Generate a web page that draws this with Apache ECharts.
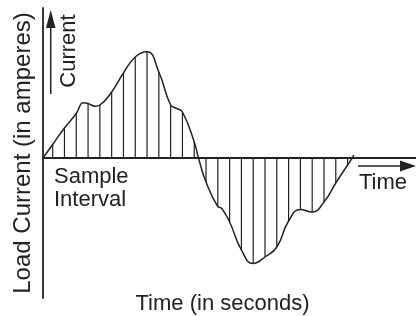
<!DOCTYPE html>
<html>
<head>
<meta charset="utf-8">
<script src="https://cdn.jsdelivr.net/npm/echarts@6/dist/echarts.min.js"></script>
<style>
    html, body { margin: 0; padding: 0; background: #fff; }
    #chart { width: 416px; height: 316px; }
</style>
</head>
<body>
<div id="chart"></div>
<script>
// sample instants (one per sample interval) and the current read at each
const sampleTimes = [1, 2, 3, 4, 5, 6, 7, 8, 9, 10, 11, 12, 13,
    14, 15, 16, 17, 18, 19, 20, 21, 22, 23, 24, 25, 26]
const sampleCurrent = [1.35, 3.0, 4.45, 5.45, 5.3, 6.6, 8.5, 10.1, 10.62, 8.6, 5.3, 4.6, 1.6,
    -2.4, -4.87, -6.4, -9.2, -10.55, -9.9, -8.9, -6.3, -5.15, -5.4, -4.4, -2.5, -0.7]

// the continuous load current waveform
const curveTimes = [0.18, 1, 2, 3, 3.6, 4, 4.6, 5, 6, 7, 8, 9, 10, 11, 11.5, 12, 13, 13.36,
    14, 15, 15.32, 16, 17, 18, 19, 20, 21, 22, 23, 24, 25, 26, 26.39, 26.54]
const curveCurrent = [0, 1.35, 3.0, 4.45, 5.53, 5.45, 5.18, 5.3, 6.6, 8.5, 10.1, 10.62, 8.6, 5.3, 4.97, 4.6, 1.6, 0,
    -2.4, -4.87, -5.03, -6.4, -9.2, -10.55, -9.9, -8.9, -6.3, -5.15, -5.4, -4.4, -2.5, -0.7, 0, 0.3]

const ink = '#222'
const font = 'Liberation Sans, Arial, Helvetica, sans-serif'

const chart = echarts.init(document.getElementById('chart'))

const option = {
    animation: false,
    grid: { left: 43, right: 0, top: 8, bottom: 18 },
    xAxis: {
        type: 'value',
        min: 0.18,
        max: 31.8,
        axisLine: { onZero: true, lineStyle: { color: ink, width: 1.8 } },
        axisTick: { show: false },
        axisLabel: { show: false },
        splitLine: { show: false }
    },
    yAxis: {
        type: 'value',
        min: -14,
        max: 15,
        name: 'Load Current (in amperes)',
        nameLocation: 'middle',
        nameRotate: 90,
        nameGap: 8,
        nameTextStyle: { color: ink, fontSize: 24, fontFamily: font },
        axisLine: { show: true, onZero: false, lineStyle: { color: ink, width: 1.8 } },
        axisTick: { show: false },
        axisLabel: { show: false },
        splitLine: { show: false }
    },
    series: [
        {
            name: 'Samples',
            type: 'bar',
            barWidth: 1.2,
            itemStyle: { color: ink },
            data: sampleTimes.map((t, i) => [t, sampleCurrent[i]])
        },
        {
            name: 'Current',
            type: 'line',
            smooth: 0.5,
            symbol: 'none',
            lineStyle: { color: ink, width: 1.5 },
            data: curveTimes.map((t, i) => [t, curveCurrent[i]])
        }
    ],
    graphic: [
        // up arrow + "Current"
        { type: 'line', shape: { x1: 50.7, y1: 94, x2: 50.7, y2: 26 }, style: { stroke: ink, lineWidth: 1.5 } },
        { type: 'polygon', shape: { points: [[50.7, 10], [46, 28], [55.5, 28]] }, style: { fill: ink } },
        {
            type: 'text', x: 69, y: 51, rotation: Math.PI / 2,
            style: { text: 'Current', font: '22px ' + font, fill: ink, align: 'center', verticalAlign: 'middle' }
        },
        // right arrow + "Time"
        { type: 'line', shape: { x1: 358, y1: 166, x2: 402, y2: 166 }, style: { stroke: ink, lineWidth: 1.5 } },
        { type: 'polygon', shape: { points: [[416, 166], [400, 160.5], [400, 171.5]] }, style: { fill: ink } },
        {
            type: 'text', x: 359, y: 183,
            style: { text: 'Time', font: '22px ' + font, fill: ink, align: 'left', verticalAlign: 'middle' }
        },
        {
            type: 'text', x: 54, y: 165,
            style: { text: 'Sample\nInterval', font: '22px ' + font, lineHeight: 23.5, fill: ink, align: 'left', verticalAlign: 'top' }
        },
        {
            type: 'text', x: 222.5, y: 304,
            style: { text: 'Time (in seconds)', font: '22px ' + font, fill: ink, align: 'center', verticalAlign: 'middle' }
        }
    ]
}

chart.setOption(option)
</script>
</body>
</html>
